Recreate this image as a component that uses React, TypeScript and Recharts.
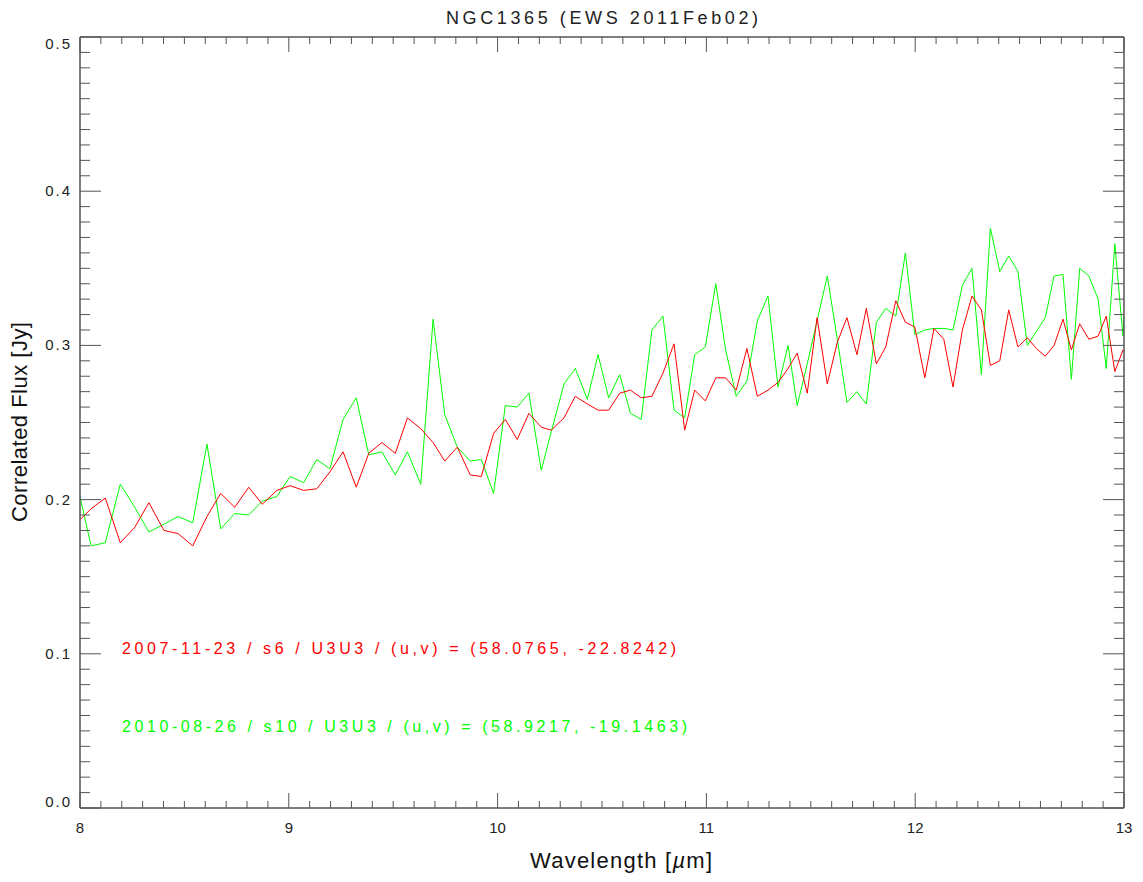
import React from "react";
import { LineChart, Line, XAxis, YAxis } from "recharts";

// wavelength grid (µm) and correlated flux (Jy) for both epochs
const wavelength = [
  8.0, 8.053, 8.121, 8.193, 8.262, 8.33, 8.402, 8.469, 8.54, 8.608, 8.674, 8.741,
  8.808, 8.873, 8.943, 9.006, 9.071, 9.134, 9.197, 9.26, 9.323, 9.383, 9.446, 9.51,
  9.568, 9.632, 9.691, 9.747, 9.807, 9.869, 9.922, 9.981, 10.037, 10.094, 10.15,
  10.209, 10.257, 10.318, 10.372, 10.43, 10.481, 10.532, 10.585, 10.636, 10.688,
  10.739, 10.792, 10.845, 10.896, 10.944, 10.995, 11.045, 11.092, 11.143, 11.194,
  11.244, 11.295, 11.343, 11.391, 11.435, 11.483, 11.53, 11.579, 11.627, 11.673,
  11.721, 11.766, 11.814, 11.859, 11.907, 11.953, 11.998, 12.046, 12.09, 12.137,
  12.181, 12.226, 12.272, 12.317, 12.36, 12.405, 12.448, 12.492, 12.537, 12.58,
  12.623, 12.665, 12.708, 12.748, 12.788, 12.832, 12.876, 12.915, 12.956, 12.995,
  13.034,
];

const flux2007 = [
  0.187, 0.194, 0.201, 0.172, 0.182, 0.198, 0.18, 0.178, 0.17, 0.189, 0.204, 0.195,
  0.208, 0.197, 0.206, 0.209, 0.206, 0.207, 0.218, 0.231, 0.208, 0.23, 0.237, 0.23,
  0.253, 0.246, 0.237, 0.225, 0.234, 0.216, 0.215, 0.243, 0.252, 0.239, 0.256,
  0.247, 0.245, 0.253, 0.267, 0.262, 0.258, 0.258, 0.269, 0.271, 0.266,
  0.267, 0.282, 0.301, 0.245, 0.271, 0.264, 0.279, 0.279, 0.271, 0.298,
  0.267, 0.271, 0.276, 0.285, 0.295, 0.269, 0.318, 0.275, 0.302, 0.318,
  0.294, 0.324, 0.288, 0.299, 0.329, 0.315, 0.312, 0.279, 0.311, 0.304,
  0.273, 0.31, 0.332, 0.323, 0.287, 0.29, 0.323, 0.299, 0.305, 0.298,
  0.293, 0.3, 0.317, 0.297, 0.314, 0.304, 0.306, 0.319, 0.283, 0.297,
  0.29,
];

const flux2010 = [
  0.202, 0.17, 0.172, 0.21, 0.195, 0.179, 0.184, 0.189, 0.185, 0.236, 0.181, 0.191,
  0.19, 0.199, 0.202, 0.215, 0.211, 0.226, 0.22, 0.252, 0.266, 0.229, 0.231, 0.216,
  0.231, 0.21, 0.317, 0.255, 0.234, 0.225, 0.226, 0.204, 0.261, 0.26, 0.269,
  0.219, 0.244, 0.275, 0.285, 0.265, 0.294, 0.266, 0.281, 0.256, 0.252,
  0.31, 0.319, 0.258, 0.253, 0.294, 0.299, 0.34, 0.297, 0.267, 0.277,
  0.316, 0.332, 0.273, 0.3, 0.261, 0.288, 0.316, 0.345, 0.304, 0.263,
  0.27, 0.262, 0.315, 0.324, 0.319, 0.36, 0.307, 0.31, 0.311, 0.311,
  0.31, 0.339, 0.35, 0.281, 0.376, 0.348, 0.358, 0.348, 0.3, 0.309,
  0.318, 0.345, 0.346, 0.278, 0.35, 0.345, 0.33, 0.285, 0.366, 0.306,
  0.4,
];

const xMajor = [8, 9, 10, 11, 12, 13];
const yMajor = [0.0, 0.1, 0.2, 0.3, 0.4, 0.5];

const label2007 = "2007-11-23 / s6 / U3U3 / (u,v) = (58.0765, -22.8242)";
const label2010 = "2010-08-26 / s10 / U3U3 / (u,v) = (58.9217, -19.1463)";

const data = wavelength.map((w, i) => ({ w, a: flux2007[i], b: flux2010[i] }));

// 10 minor intervals between each major tick
const xTicks = Array.from({ length: 51 }, (_, i) => +(8 + i * 0.1).toFixed(2));
const yTicks = Array.from({ length: 51 }, (_, i) => +(i * 0.01).toFixed(3));

const AXIS = "#555";
const FONT = "'Liberation Sans', Helvetica, Arial, sans-serif";
const W = 1143;
const H = 882;

const isMajorX = (v: number) => xMajor.some((m) => Math.abs(m - v) < 1e-6);
const isMajorY = (v: number) => yMajor.some((m) => Math.abs(m - v) < 1e-6);

const BottomTick = ({ x, y, payload }: any) => {
  const major = isMajorX(payload.value);
  return (
    <g>
      <line x1={x} x2={x} y1={y} y2={y - (major ? 15 : 7)} stroke={AXIS} />
      {major && (
        <text x={x} y={y + 25} textAnchor="middle" fontSize={15} fill="#222" fontFamily={FONT}>
          {payload.value}
        </text>
      )}
    </g>
  );
};

const TopTick = ({ x, y, payload }: any) => {
  const major = isMajorX(payload.value);
  return <line x1={x} x2={x} y1={y} y2={y + (major ? 15 : 7)} stroke={AXIS} />;
};

const LeftTick = ({ x, y, payload }: any) => {
  const v = payload.value;
  const major = isMajorY(v);
  const dy = v === 0 ? -1 : v === 0.5 ? 12 : 5;
  return (
    <g>
      <line x1={x} x2={x + (major ? 21 : 10)} y1={y} y2={y} stroke={AXIS} />
      {major && (
        <text x={x - 8} y={y + dy} textAnchor="end" fontSize={15} fill="#222" fontFamily={FONT} letterSpacing={2}>
          {v.toFixed(1)}
        </text>
      )}
    </g>
  );
};

const RightTick = ({ x, y, payload }: any) => {
  const major = isMajorY(payload.value);
  return <line x1={x} x2={x - (major ? 21 : 10)} y1={y} y2={y} stroke={AXIS} />;
};

const axisCommon = {
  type: "number" as const,
  allowDataOverflow: true,
  interval: 0,
  tickSize: 0,
  tickMargin: 0,
  tickLine: false,
  axisLine: { stroke: AXIS, strokeWidth: 1.5 },
};

export default function App() {
  return (
    <div style={{ position: "absolute", left: 0, top: 0, width: W, height: H, background: "#fff" }}>
      <LineChart width={W} height={H} data={data} margin={{ top: 0, right: 0, bottom: 0, left: 0 }}>
        <XAxis
          {...axisCommon}
          xAxisId="bottom"
          dataKey="w"
          domain={[8, 13]}
          ticks={xTicks}
          height={74}
          tick={<BottomTick />}
        />
        <XAxis
          {...axisCommon}
          xAxisId="top"
          orientation="top"
          dataKey="w"
          domain={[8, 13]}
          ticks={xTicks}
          height={37}
          tick={<TopTick />}
        />
        <YAxis
          {...axisCommon}
          yAxisId="left"
          domain={[0, 0.5]}
          ticks={yTicks}
          width={80}
          tick={<LeftTick />}
        />
        <YAxis
          {...axisCommon}
          yAxisId="right"
          orientation="right"
          domain={[0, 0.5]}
          ticks={yTicks}
          width={19}
          tick={<RightTick />}
        />
        {/* both axis pairs share the same domain, so each series can own one */}
        <Line
          xAxisId="bottom"
          yAxisId="left"
          dataKey="b"
          stroke="#00ff00"
          strokeWidth={1}
          dot={false}
          isAnimationActive={false}
        />
        <Line
          xAxisId="top"
          yAxisId="right"
          dataKey="a"
          stroke="#ff0000"
          strokeWidth={1}
          dot={false}
          isAnimationActive={false}
        />
      </LineChart>
      <svg
        width={W}
        height={H}
        style={{ position: "absolute", left: 0, top: 0, pointerEvents: "none" }}
        fontFamily={FONT}
      >
        <text x={602} y={24} textAnchor="middle" fontSize={18} fill="#222" textLength={312} lengthAdjust="spacing">
          NGC1365 (EWS 2011Feb02)
        </text>
        <text x={621} y={868} textAnchor="middle" fontSize={22} fill="#111" textLength={182} lengthAdjust="spacing">
          Wavelength [<tspan fontStyle="italic">µ</tspan>m]
        </text>
        <text
          x={0}
          y={0}
          transform="translate(27,422) rotate(-90)"
          textAnchor="middle"
          fontSize={22}
          fill="#111"
          textLength={200}
          lengthAdjust="spacing"
        >
          Correlated Flux [Jy]
        </text>
        <text x={122} y={654} fontSize={16} fill="#ff0000" textLength={554} lengthAdjust="spacing">
          {label2007}
        </text>
        <text x={122} y={732} fontSize={16} fill="#00ff00" textLength={565} lengthAdjust="spacing">
          {label2010}
        </text>
      </svg>
    </div>
  );
}
